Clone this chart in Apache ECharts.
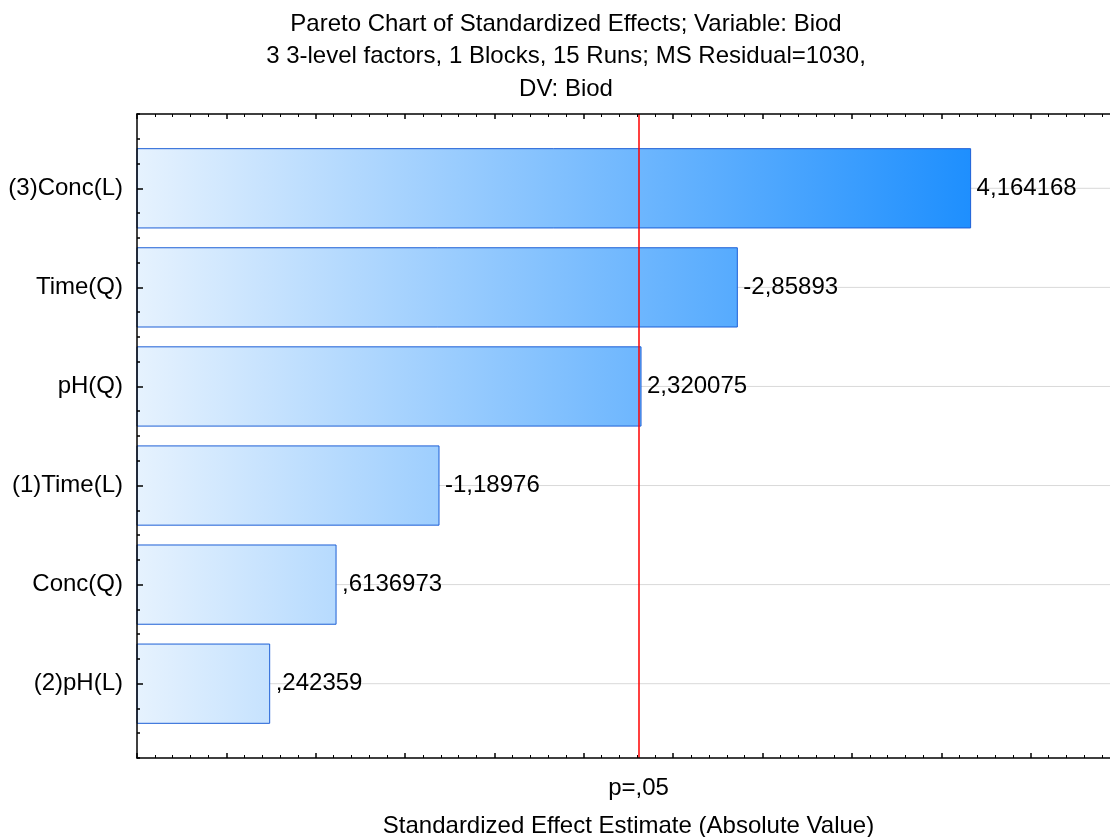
<!DOCTYPE html>
<html><head><meta charset="utf-8">
<script src="https://cdn.jsdelivr.net/npm/echarts@6/dist/echarts.min.js"></script>
<style>html,body{margin:0;padding:0;background:#fff}#c{width:1110px;height:837px}</style>
</head><body><div id="c"></div>
<script>
// ---- data ----
const titleLines = [
  'Pareto Chart of Standardized Effects; Variable: Biod',
  '3 3-level factors, 1 Blocks, 15 Runs; MS Residual=1030,',
  'DV: Biod'
];
const categories = ['(3)Conc(L)', 'Time(Q)', 'pH(Q)', '(1)Time(L)', 'Conc(Q)', '(2)pH(L)'];
const effects = [4.164168, -2.85893, 2.320075, -1.18976, 0.6136973, 0.242359];
const pCrit = 2.306004;
const pLabel = 'p=,05';
const xName = 'Standardized Effect Estimate (Absolute Value)';

// ---- layout / style ----
const FONT = '"Liberation Sans", Arial, sans-serif';
const FS = 24;
const X_MIN = -0.5, X_MAX = 5, X_INT = 0.5;
const Y_MIN = 0.25, Y_MAX = 6.75;
const BAR_W = 0.8;

function fmt(v) {
  let s = String(v).replace('.', ',');
  s = s.replace(/^(-?)0,/, '$1,');
  return s;
}
const absVals = effects.map(Math.abs);
const maxAbs = Math.max.apply(null, absVals);
const seriesData = absVals.map((v, i) => [v, i + 1]);
const catPos = categories.map((_, i) => i + 1);

const chart = echarts.init(document.getElementById('c'), null, {renderer: 'canvas'});

const tickStyle = {color: '#000', width: 1.5};
const option = {
  animation: false,
  backgroundColor: '#fff',
  grid: {left: 137, right: -10, top: 114, bottom: 79, containLabel: false, outerBoundsMode: 'none'},
  graphic: titleLines.map((t, i) => ({
    type: 'text', x: 566, y: [24, 56, 89][i], silent: true,
    style: {text: t, fill: '#000', font: FS + 'px ' + FONT, textAlign: 'center', textVerticalAlign: 'middle'}
  })),
  xAxis: [{
    type: 'value', min: X_MIN, max: X_MAX, interval: X_INT, position: 'bottom', z: 10,
    axisLine: {onZero: false, lineStyle: {color: '#000', width: 1.5}},
    axisTick: {inside: true, length: 5, lineStyle: tickStyle},
    minorTick: {show: true, splitNumber: 5, length: 3, lineStyle: {color: '#000', width: 1}},
    splitLine: {show: false}, minorSplitLine: {show: false},
    axisLabel: {customValues: [pCrit], formatter: () => pLabel, margin: 18,
      fontSize: FS, fontFamily: FONT, color: '#000'},
    name: xName, nameLocation: 'middle', nameGap: 56,
    nameTextStyle: {fontSize: FS, fontFamily: FONT, color: '#000'}
  }, {
    type: 'value', min: X_MIN, max: X_MAX, interval: X_INT, position: 'top', z: 10,
    axisLine: {onZero: false, lineStyle: {color: '#000', width: 1.5}},
    axisTick: {inside: true, length: 5, lineStyle: tickStyle},
    minorTick: {show: true, splitNumber: 5, length: 3, lineStyle: {color: '#000', width: 1}},
    splitLine: {show: false}, minorSplitLine: {show: false},
    axisLabel: {show: false}
  }],
  yAxis: [{
    type: 'value', min: Y_MIN, max: Y_MAX, interval: 0.25, inverse: true, position: 'left', z: 10,
    axisLine: {onZero: false, lineStyle: {color: '#000', width: 1.5}},
    axisTick: {inside: true, length: 3, lineStyle: tickStyle},
    splitLine: {show: false},
    axisLabel: {customValues: catPos, formatter: v => categories[Math.round(v) - 1],
      margin: 14, fontSize: FS, fontFamily: FONT, color: '#000'}
  }, {
    type: 'value', min: Y_MIN, max: Y_MAX, interval: 0.25, inverse: true, position: 'left', z: 10,
    axisLine: {show: false, onZero: false},
    axisTick: {inside: true, length: 6, customValues: catPos, lineStyle: tickStyle},
    splitLine: {show: false},
    axisLabel: {show: false}
  }],
  series: [{
    type: 'custom',
    coordinateSystem: 'cartesian2d',
    xAxisIndex: 0, yAxisIndex: 0,
    data: seriesData,
    encode: {x: 0, y: 1},
    clip: false,
    renderItem: function (params, api) {
      const v = api.value(0), c = api.value(1);
      const start = api.coord([X_MIN, c]);
      const end = api.coord([v, c]);
      const right = api.coord([X_MAX, c]);
      const gEnd = api.coord([maxAbs, c]);
      const h = api.size([0, BAR_W])[1];
      const grad = new echarts.graphic.LinearGradient(start[0], 0, gEnd[0], 0, [
        {offset: 0, color: '#e6f2fe'},
        {offset: 1, color: '#1e8ffe'}
      ], true);
      return {
        type: 'group',
        children: [
          {type: 'line', shape: {x1: start[0], y1: start[1], x2: right[0], y2: start[1]},
            style: {stroke: '#d9d9d9', lineWidth: 1}},
          {type: 'rect', shape: {x: start[0], y: start[1] - h / 2, width: end[0] - start[0], height: h},
            style: {fill: grad, stroke: '#1d5fd6', lineWidth: 1}},
          {type: 'text', x: end[0] + 6, y: end[1],
            style: {text: fmt(effects[params.dataIndex]), fill: '#000', font: FS + 'px ' + FONT,
              textAlign: 'left', textVerticalAlign: 'middle'}}
        ]
      };
    },
    markLine: {
      silent: true, symbol: 'none', animation: false,
      label: {show: false},
      lineStyle: {color: '#ff0000', width: 1.5, type: 'solid'},
      data: [[{coord: [pCrit, Y_MAX]}, {coord: [pCrit, Y_MIN]}]]
    },
    z: 2
  }]
};
chart.setOption(option);
</script>
</body></html>
